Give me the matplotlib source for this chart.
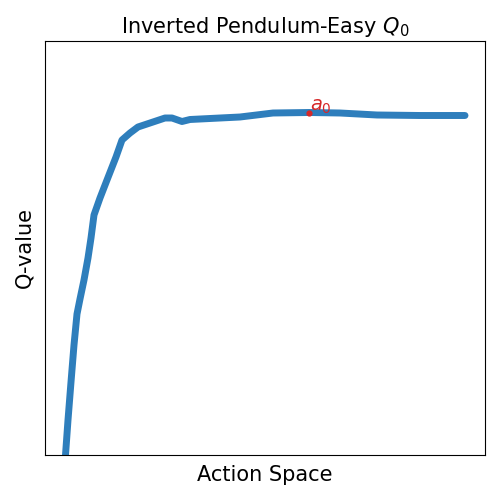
import matplotlib
matplotlib.use("agg")
import matplotlib.pyplot as plt

# action values and their Q estimates
actions = [-1.0, -0.985, -0.97, -0.955, -0.94, -0.925, -0.905, -0.885,
           -0.87, -0.855, -0.825, -0.79, -0.745, -0.715, -0.675, -0.635,
           -0.575, -0.5, -0.465, -0.415, -0.375, -0.275, -0.125, 0.04, 0.22,
           0.375, 0.56, 0.775, 1.0]
q_values = [-0.7, 3.5, 7.3, 11.0, 14.1, 15.6, 17.5, 19.7,
            21.7, 24.0, 25.7, 27.5, 29.8, 31.5, 32.2, 32.8,
            33.2, 33.7, 33.7, 33.35, 33.55, 33.65, 33.8, 34.2, 34.25,
            34.2, 34.0, 33.95, 33.95]
best_action = 0.22
best_q = 34.2

fig = plt.figure(figsize=(5, 5), dpi=100)
ax = fig.add_axes([0.09, 0.09, 0.88, 0.828])

ax.plot(actions, q_values, color="#2e7ebc", lw=5, solid_capstyle="round",
        solid_joinstyle="round")
ax.plot([best_action], [best_q], "o", color="#d62728", ms=3.5)
ax.text(best_action + 0.005, best_q + 0.2, "$a_0$", color="#d62728",
        fontsize=14, ha="left", va="baseline")

ax.set_xlim(-1.1, 1.1)
ax.set_ylim(0, 41.4)
ax.set_xticks([])
ax.set_yticks([])
ax.set_title("Inverted Pendulum-Easy $Q_0$", fontsize=15)
ax.set_xlabel("Action Space", fontsize=15, labelpad=7)
ax.set_ylabel("Q-value", fontsize=15, labelpad=7.5)

fig.savefig("out.png")
plt.close(fig)
